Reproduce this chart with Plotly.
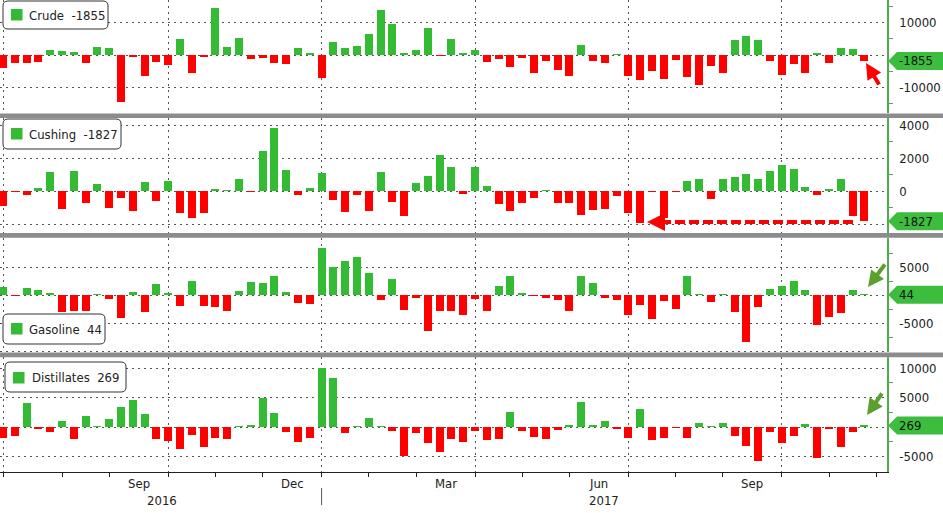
import plotly.graph_objects as go
import pandas as pd

# ---------------- data (weekly, Fridays) ----------------
weeks = pd.date_range("2016-07-01", periods=74, freq="W-FRI")

crude = [-4100, -2360, -2570, -2260, 1540, 1230, 920, -2570, 2460, 2150,
         -14700, -620, -6470, -2160, -3080, 4930, -5440, -510, 14570, 2570,
         5240, -1130, -820, -2360, -2670, 2260, 720, -6980, 4100, 2260,
         2870, 6570, 13860, 9650, 720, 1640, 8420, -200, 4930, 720,
         1540, -2050, -1130, -3590, -820, -5440, -1740, -4620, -6470, 3080,
         -1850, -2360, 150, -6470, -7700, -4930, -7390, -1540, -6670, -9240,
         -3390, -5440, 4520, 5850, 4620, -1850, -6160, -2670, -5650, 510,
         -2360, 2050, 1740, -1855]

cushing = [-890, -50, -240, 180, 1150, -1090, 1210, -710, 420, -1010,
           -420, -1190, 545, -590, 610, -1310, -1620, -1310, 120, 60,
           750, -40, 2440, 3840, 1290, -220, 200, 1100, -525, -1250,
           -220, -1190, 1150, -650, -1490, 485, 910, 2180, 1450, -180,
           1450, 300, -790, -1190, -710, -400, 40, -710, -710, -1430,
           -1130, -1070, -280, -1310, -1920, -30, -1660, -30, 610, 750,
           -465, 750, 870, 1030, 750, 1230, 1580, 1350, 260, -220,
           140, 750, -1490, -1827]

gasoline = [1410, -120, 1240, 820, 350, -3060, -2770, -2770, 60, -650,
            -4180, 530, -3120, 1940, 180, -1880, 2470, -1880, -2180, -2770,
            710, 2300, 2060, 3360, 530, -1350, -1530, 8360, 4950, 6010,
            6710, 3890, -820, 2830, -2590, -470, -6480, -2940, -2770, -3650,
            -650, -2940, 1590, 3360, 180, -120, -470, -820, -2770, 3360,
            2120, -470, -820, -3650, -1710, -4360, -1000, -2410, 3360, 50,
            -1180, 30, -3120, -8420, -2060, 1060, 1590, 2470, 880, -5420,
            -4000, -3300, 880, 44]

distillates = [-1810, -1580, 4010, -280, -790, 1020, -2030, 1860, 60, 1360,
               3390, 4630, 2200, -1980, -2370, -3730, -1360, -3330, -1810, -2030,
               170, 280, 4860, 2370, -850, -2490, -1810, 9940, 8310, -960,
               60, 1530, 60, -620, -4860, -960, -2660, -4180, -1980, -2490,
               -620, -2150, -1980, 2540, -620, -1640, -1980, -450, 340, 4240,
               340, 1020, -280, -1810, 3050, -2150, -1810, -110, -1810, 680,
               110, 680, -1470, -3160, -5710, -790, -2660, -1470, 510, -5200,
               -280, -3330, -790, 269]

names = ["Crude", "Cushing", "Gasoline", "Distillates"]
last_labels = ["-1855", "-1827", "44", "269"]
series = [crude, cushing, gasoline, distillates]

major_ticks = [[10000, 0, -10000], [4000, 2000, 0, -2000],
               [10000, 5000, 0, -5000, -10000], [10000, 5000, 0, -5000]]
major_text = [["10000", "", "-10000"], ["4000", "2000", "0", ""],
              ["", "5000", "", "-5000", ""], ["10000", "5000", "", "-5000"]]
minor_ticks = [[15000, 5000, -5000, -15000], [3000, 1000, -1000],
               [7500, 2500, -2500, -7500], [7500, 2500, -2500]]

month_names = {9: "Sep", 12: "Dec", 3: "Mar", 6: "Jun"}

# ---------------- styling / geometry ----------------
GREEN = "#33bb33"
RED = "#ff0000"
AXG = "#4cae4c"
FLAG = "#3dbd3d"
GRID = "#555555"
TXT = "#222222"
FONT = "DejaVu Sans Condensed, Liberation Sans, sans-serif"

W, H = 943, 513
PR, PB = 887, 472


def X(px):
    return px / PR


def Y(py):
    return (PB - py) / PB


panels_px = [(0, 113), (118, 233), (238, 352), (357, 472)]
zero_px = [55, 191, 295, 427]
px_per_unit = [32.3 / 10000, 33 / 2000, 28 / 5000, 29.5 / 5000]

x0_px, step_px = 3.0, 11.8
xr = [(0 - x0_px) / step_px, (PR - x0_px) / step_px]
idx = list(range(len(weeks)))

ext = pd.date_range(weeks[0], periods=len(weeks) + 1, freq="W-FRI")
month_start = [i for i in range(len(ext)) if i == 0 or ext[i].month != ext[i - 1].month]
quarter_start = [i for i in month_start if ext[i].month in (1, 4, 7, 10)]

fig = go.Figure()

for k in range(4):
    vals = series[k]
    xn = "x" if k == 0 else f"x{k+1}"
    yn = "y" if k == 0 else f"y{k+1}"
    fig.add_trace(go.Bar(x=idx, y=vals, width=0.68,
                         marker=dict(color=[GREEN if v >= 0 else RED for v in vals], line_width=0),
                         xaxis=xn, yaxis=yn, showlegend=False, hoverinfo="skip"))
    tri_x = (891 - x0_px) / step_px
    fig.add_trace(go.Scatter(x=[tri_x] * len(major_ticks[k]), y=major_ticks[k], mode="markers",
                             marker=dict(symbol="triangle-right", size=8, color=AXG),
                             cliponaxis=False, xaxis=xn, yaxis=yn, showlegend=False, hoverinfo="skip"))

layout = dict(width=W, height=H, margin=dict(l=0, r=W - PR, t=0, b=H - PB),
              paper_bgcolor="white", plot_bgcolor="white", bargap=0,
              font=dict(family=FONT, size=13, color=TXT))

for k in range(4):
    top, bot = panels_px[k]
    z = zero_px[k]
    s = px_per_unit[k]
    ymax = (z - top) / s
    ymin = -(bot - z) / s
    xkey = "xaxis" if k == 0 else f"xaxis{k+1}"
    ykey = "yaxis" if k == 0 else f"yaxis{k+1}"
    yname = "y" if k == 0 else f"y{k+1}"
    xname = "x" if k == 0 else f"x{k+1}"
    xa = dict(domain=[0, 1], range=xr, anchor=yname, tickmode="array", tickvals=quarter_start,
              showgrid=True, gridcolor=GRID, griddash="2px,4px", gridwidth=1,
              showticklabels=False, ticks="", zeroline=False, showline=False, fixedrange=True)
    if k > 0:
        xa["matches"] = "x"
    if k == 3:
        xa.update(ticks="outside", ticklen=4, tickcolor=TXT, tickwidth=1,
                  showline=True, linecolor=TXT, linewidth=1,
                  minor=dict(tickmode="array", tickvals=month_start, ticks="outside",
                             ticklen=4, tickcolor=TXT, tickwidth=1, showgrid=False))
    layout[xkey] = xa
    layout[ykey] = dict(domain=[Y(bot), Y(top)], range=[ymin, ymax], anchor=xname, side="right",
                        tickmode="array", tickvals=major_ticks[k], ticktext=major_text[k],
                        showgrid=True, gridcolor=GRID, griddash="2px,4px", gridwidth=1,
                        zeroline=False, showline=True, linecolor=AXG, linewidth=1.5,
                        ticks="outside", ticklen=8, tickcolor="rgba(0,0,0,0)",
                        tickfont=dict(size=13, color=TXT, family=FONT),
                        minor=dict(tickmode="array", tickvals=minor_ticks[k], ticks="outside",
                                   ticklen=4, tickcolor=AXG, tickwidth=1, showgrid=False),
                        fixedrange=True)

fig.update_layout(**layout)

shapes = []
annotations = []

# panel separators
for (y0, y1) in [(113.5, 118), (233, 237.8), (352.5, 357.2)]:
    shapes.append(dict(type="rect", xref="paper", yref="paper", x0=X(0), x1=X(W), y0=Y(y1), y1=Y(y0),
                       fillcolor="#8c8c8c", line_width=0, layer="above"))


def rrect(x0, y0, x1, y1, r):
    pts = [
        f"M{X(x0 + r)},{Y(y0)}", f"L{X(x1 - r)},{Y(y0)}", f"Q{X(x1)},{Y(y0)} {X(x1)},{Y(y0 + r)}",
        f"L{X(x1)},{Y(y1 - r)}", f"Q{X(x1)},{Y(y1)} {X(x1 - r)},{Y(y1)}",
        f"L{X(x0 + r)},{Y(y1)}", f"Q{X(x0)},{Y(y1)} {X(x0)},{Y(y1 - r)}",
        f"L{X(x0)},{Y(y0 + r)}", f"Q{X(x0)},{Y(y0)} {X(x0 + r)},{Y(y0)}", "Z"]
    return " ".join(pts)


# legend boxes: (box x0,y0,x1,y1, square x0,y0, text x)
legend_geom = [(3, 1, 108, 29, 11, 9, 27),
               (3, 119, 121, 149, 11, 128, 27),
               (3, 314, 105, 344, 11, 323, 27),
               (5, 362, 126, 392, 13, 372, 30)]
for k, (bx0, by0, bx1, by1, sx, sy, tx) in enumerate(legend_geom):
    shapes.append(dict(type="path", xref="paper", yref="paper", path=rrect(bx0, by0, bx1, by1, 5),
                       fillcolor="white", line=dict(color="#333333", width=1), layer="above"))
    shapes.append(dict(type="rect", xref="paper", yref="paper", x0=X(sx), x1=X(sx + 11.5),
                       y0=Y(sy + 11.5), y1=Y(sy), fillcolor=GREEN, line_width=0, layer="above"))
    annotations.append(dict(xref="paper", yref="paper", x=X(tx), y=Y((by0 + by1) / 2),
                            xanchor="left", yanchor="middle", showarrow=False,
                            text=f"{names[k]}\u00a0\u00a0{last_labels[k]}",
                            font=dict(size=13, color=TXT, family=FONT)))

# last-value flags on right axis
for k in range(4):
    c = zero_px[k] - series[k][-1] * px_per_unit[k]
    h = 9
    path = (f"M{X(888)},{Y(c)} L{X(897)},{Y(c - h)} L{X(W)},{Y(c - h)} "
            f"L{X(W)},{Y(c + h)} L{X(897)},{Y(c + h)} Z")
    shapes.append(dict(type="path", xref="paper", yref="paper", path=path,
                       fillcolor=FLAG, line_width=0, layer="above"))
    annotations.append(dict(xref="paper", yref="paper", x=X(897), y=Y(c), xanchor="left",
                            yanchor="middle", showarrow=False, text=last_labels[k],
                            font=dict(size=13, color="#111111", family=FONT)))

# month labels and years
for j, m in enumerate(month_start[:-1]):
    mo = ext[m].month
    if mo in month_names:
        annotations.append(dict(xref="x4", yref="paper", x=(m + month_start[j + 1]) / 2, y=Y(484),
                                xanchor="center", yanchor="middle", showarrow=False,
                                text=month_names[mo], font=dict(size=13, color=TXT, family=FONT)))
year_start = [i for i in range(len(weeks)) if i == 0 or weeks[i].year != weeks[i - 1].year]
year_bounds = year_start + [xr[1]]
for j, ys in enumerate(year_start):
    annotations.append(dict(xref="x4", yref="paper", x=(ys + year_bounds[j + 1]) / 2, y=Y(500),
                            xanchor="center", yanchor="middle", showarrow=False,
                            text=str(weeks[ys].year), font=dict(size=13, color=TXT, family=FONT)))
    if j > 0:
        shapes.append(dict(type="line", xref="x4", yref="paper", x0=ys, x1=ys, y0=Y(488), y1=Y(505),
                           line=dict(color="#555555", width=1)))

# arrows
annotations.append(dict(xref="paper", yref="paper", x=X(866), y=Y(63), ax=14, ay=23, text="",
                        showarrow=True, arrowcolor=RED, arrowwidth=4, arrowhead=2, arrowsize=0.8))
shapes.append(dict(type="line", xref="paper", yref="paper", x0=X(853), x1=X(660), y0=Y(222), y1=Y(222),
                   line=dict(color=RED, width=4, dash="10px,4px"), layer="above"))
annotations.append(dict(xref="paper", yref="paper", x=X(647), y=Y(222), ax=20, ay=0, text="",
                        showarrow=True, arrowcolor=RED, arrowwidth=4, arrowhead=2, arrowsize=0.9))
annotations.append(dict(xref="paper", yref="paper", x=X(868), y=Y(287), ax=18, ay=-24, text="",
                        showarrow=True, arrowcolor="#5aa02c", arrowwidth=4, arrowhead=2, arrowsize=0.8))
annotations.append(dict(xref="paper", yref="paper", x=X(867), y=Y(415), ax=16, ay=-23, text="",
                        showarrow=True, arrowcolor="#5aa02c", arrowwidth=4, arrowhead=2, arrowsize=0.8))

fig.update_layout(shapes=shapes, annotations=annotations)
fig.write_html("out.html")
